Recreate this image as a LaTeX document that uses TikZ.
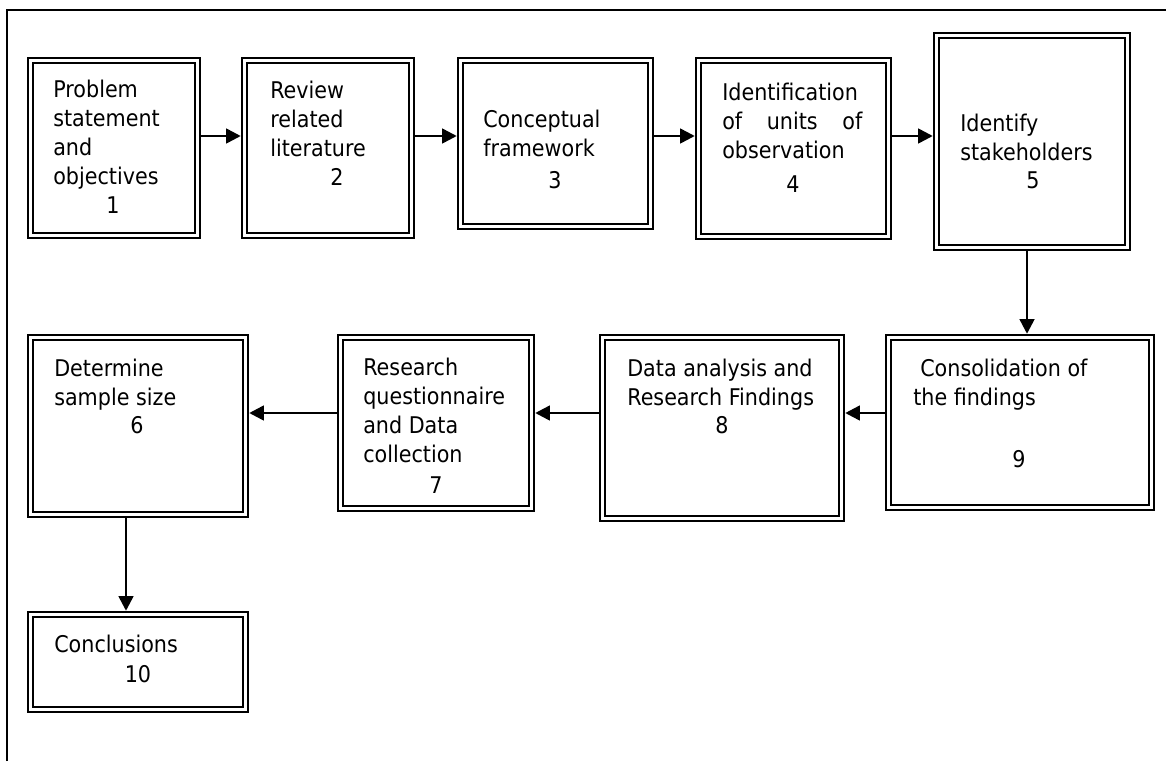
\documentclass[tikz,border=0pt]{standalone}
\usepackage{fontspec}
\setmainfont[FakeStretch=0.9]{DejaVu Sans}
\usetikzlibrary{arrows.meta}
\begin{document}
\begin{tikzpicture}[x=0.75pt,y=-0.75pt,
  boxnode/.style={draw, line width=1.9pt, double, double distance=1.8pt, inner sep=0pt, outer sep=2.8pt},
  txt/.style={anchor=base west, inner sep=0pt, align=left, font=\fontsize{17.25pt}{21.6pt}\selectfont},
  num/.style={anchor=base, inner sep=0pt, font=\fontsize{17.25pt}{21.6pt}\selectfont},
  arr/.style={line width=1.9pt, -{Triangle[length=11pt,width=11pt]}}]
\useasboundingbox (0,0) rectangle (1166,761);
% outer frame
\coordinate (fa) at (7,761);
\coordinate (fb) at (7,10);
\coordinate (fc) at (1166,10);
\draw[line width=1.9pt] (fa) -- (fb) -- (fc);
% boxes
\node[boxnode, minimum width=167*0.75pt, minimum height=175*0.75pt] (b1) at (114,148) {};
\node[boxnode, minimum width=167*0.75pt, minimum height=175*0.75pt] (b2) at (328,148) {};
\node[boxnode, minimum width=190*0.75pt, minimum height=166*0.75pt] (b3) at (555.5,143.5) {};
\node[boxnode, minimum width=190*0.75pt, minimum height=176*0.75pt] (b4) at (793.5,148.5) {};
\node[boxnode, minimum width=191*0.75pt, minimum height=212*0.75pt] (b5) at (1032,141.5) {};
\node[boxnode, minimum width=215*0.75pt, minimum height=177*0.75pt] (b6) at (138,426) {};
\node[boxnode, minimum width=191*0.75pt, minimum height=171*0.75pt] (b7) at (436,423) {};
\node[boxnode, minimum width=239*0.75pt, minimum height=181*0.75pt] (b8) at (722,428) {};
\node[boxnode, minimum width=263*0.75pt, minimum height=170*0.75pt] (b9) at (1020,422.5) {};
\node[boxnode, minimum width=215*0.75pt, minimum height=95*0.75pt] (b10) at (138,662) {};
% texts (anchor = baseline of the last line)
\node[txt] (t1) at (53,184) {Problem\\statement\\and\\objectives};
\node[num] (n1) at (113,213) {1};
\node[txt] (t2) at (270,156) {Review\\related\\literature};
\node[num] (n2) at (337,185) {2};
\node[txt] (t3) at (483,156) {Conceptual\\framework};
\node[num] (n3) at (555,188) {3};
\node[txt] (t4) at (722,158) {Identification\\\makebox[105pt][s]{of\hfill units\hfill of}\\observation};
\node[num] (n4) at (793,192) {4};
\node[txt] (t5) at (960,160) {Identify\\stakeholders};
\node[num] (n5) at (1033,188) {5};
\node[txt] (t6) at (54,405) {Determine\\sample size};
\node[num] (n6) at (137,433) {6};
\node[txt] (t7) at (363,462) {Research\\questionnaire\\and Data\\collection};
\node[num] (n7) at (436,493) {7};
\node[txt] (t8) at (627,405) {Data analysis and\\Research Findings};
\node[num] (n8) at (722,433) {8};
\node[txt] (t9) at (913,405) {\hspace*{5.25pt}Consolidation of\\the findings};
\node[num] (n9) at (1019,467) {9};
\node[txt] (t10) at (54,652) {Conclusions};
\node[num] (n10) at (138,682) {10};
% connector guides
\coordinate (r1) at (0,136);
\coordinate (r2) at (0,413);
\coordinate (v5) at (1027,0);
\coordinate (v6) at (126,0);
% connectors
\draw[arr] (b1.east |- r1) -- (b2.west |- r1);
\draw[arr] (b2.east |- r1) -- (b3.west |- r1);
\draw[arr] (b3.east |- r1) -- (b4.west |- r1);
\draw[arr] (b4.east |- r1) -- (b5.west |- r1);
\draw[arr] (b5.south -| v5) -- (b9.north -| v5);
\draw[arr] (b9.west |- r2) -- (b8.east |- r2);
\draw[arr] (b8.west |- r2) -- (b7.east |- r2);
\draw[arr] (b7.west |- r2) -- (b6.east |- r2);
\draw[arr] (b6.south -| v6) -- (b10.north -| v6);
\end{tikzpicture}
\end{document}
